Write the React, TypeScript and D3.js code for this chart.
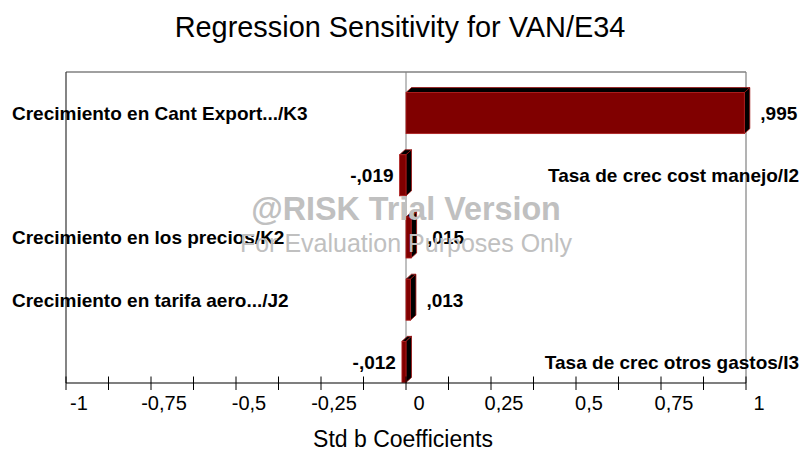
import React from "react";
import * as d3 from "d3";

const categories = [
  "Crecimiento en Cant Export.../K3",
  "Tasa de crec cost manejo/I2",
  "Crecimiento en los precios/K2",
  "Crecimiento en tarifa aero.../J2",
  "Tasa de crec otros gastos/I3",
];
const coefficients = [0.995, -0.019, 0.015, 0.013, -0.012];
const valueLabels = [",995", "-,019", ",015", ",013", "-,012"];
const tickValues = [-1, -0.75, -0.5, -0.25, 0, 0.25, 0.5, 0.75, 1];
const tickLabels = ["-1", "-0,75", "-0,5", "-0,25", "0", "0,25", "0,5", "0,75", "1"];
const minorTickValues = [-1, -0.875, -0.75, -0.625, -0.5, -0.375, -0.25, -0.125, 0, 0.125, 0.25, 0.375, 0.5, 0.625, 0.75, 0.875, 1];

const W = 806;
const H = 457;
const FONT = "'Liberation Sans', Arial, sans-serif";

export default function App() {
  const left = 66, right = 746, top = 72, bottom = 383;
  const x = d3.scaleLinear().domain([-1, 1]).range([left, right]);
  const y = d3.scaleBand<number>().domain(d3.range(categories.length)).range([82, 393]).paddingInner(0.34).paddingOuter(0.17);
  const dx = 5.5, dy = -5;
  const x0 = x(0);

  return (
    <svg width={W} height={H} style={{ position: "absolute", left: 0, top: 0, background: "#fff" }} fontFamily={FONT}>
      <rect x={0} y={0} width={W} height={H} fill="#fff" />
      <text x={400} y={37} textAnchor="middle" fontSize={28.9} fill="#000">Regression Sensitivity for VAN/E34</text>

      {/* frame */}
      <line x1={left} x2={right} y1={top} y2={top} stroke="#808080" strokeWidth={1.5} />
      <line x1={right} x2={right} y1={top} y2={bottom} stroke="#808080" strokeWidth={1.2} />
      <line x1={left} x2={left} y1={top} y2={bottom} stroke="#333" strokeWidth={1.2} />
      <line x1={x0} x2={x0} y1={top} y2={bottom} stroke="#808080" strokeWidth={1} />

      {/* bars */}
      {coefficients.map((v, i) => {
        const yc = y(i)!;
        const h = y.bandwidth();
        const xa = Math.min(x(v), x0);
        const xb = Math.max(x(v), x0);
        const topFace = `${xa},${yc} ${xa + dx},${yc + dy} ${xb + dx},${yc + dy} ${xb},${yc}`;
        const sideFace = `${xb},${yc} ${xb + dx},${yc + dy} ${xb + dx},${yc + h + dy} ${xb},${yc + h}`;
        return (
          <g key={i}>
            <polygon points={topFace} fill="#000" stroke="#a01010" strokeWidth={0.8} />
            <polygon points={sideFace} fill="#000" stroke="#a01010" strokeWidth={0.8} />
            <rect x={xa} y={yc} width={xb - xa} height={h} fill="#800000" stroke="#b02020" strokeWidth={0.8} />
          </g>
        );
      })}

      {/* labels */}
      {coefficients.map((v, i) => {
        const yc = y(i)! + y.bandwidth() / 2 + 6.8;
        const pos = v >= 0;
        return (
          <g key={"l" + i} fontWeight="bold" fontSize={19} fill="#000">
            <text x={pos ? 12 : 799} y={yc} textAnchor={pos ? "start" : "end"}>{categories[i]}</text>
            <text x={pos ? x(v) + 16 : x(v) - 6} y={yc} textAnchor={pos ? "start" : "end"}>{valueLabels[i]}</text>
          </g>
        );
      })}

      {/* x axis */}
      <line x1={left} x2={right} y1={bottom} y2={bottom} stroke="#000" strokeWidth={1.2} />
      {minorTickValues.map((t) => (
        <line key={"t" + t} x1={x(t)} x2={x(t)} y1={bottom - 6.5} y2={bottom + 7} stroke="#000" strokeWidth={1} />
      ))}
      {tickValues.map((t, i) => (
        <text key={"tl" + t} x={x(t) + 13} y={410} textAnchor="middle" fontSize={20} fill="#000">{tickLabels[i]}</text>
      ))}
      <text x={403} y={447} textAnchor="middle" fontSize={23} fill="#000">Std b Coefficients</text>

      {/* watermark */}
      <text x={406} y={220} textAnchor="middle" fontSize={32.3} fontWeight="bold" fill="#c0c0c0">@RISK Trial Version</text>
      <text x={406} y={252} textAnchor="middle" fontSize={25} fill="#c0c0c0">For Evaluation Purposes Only</text>
    </svg>
  );
}
